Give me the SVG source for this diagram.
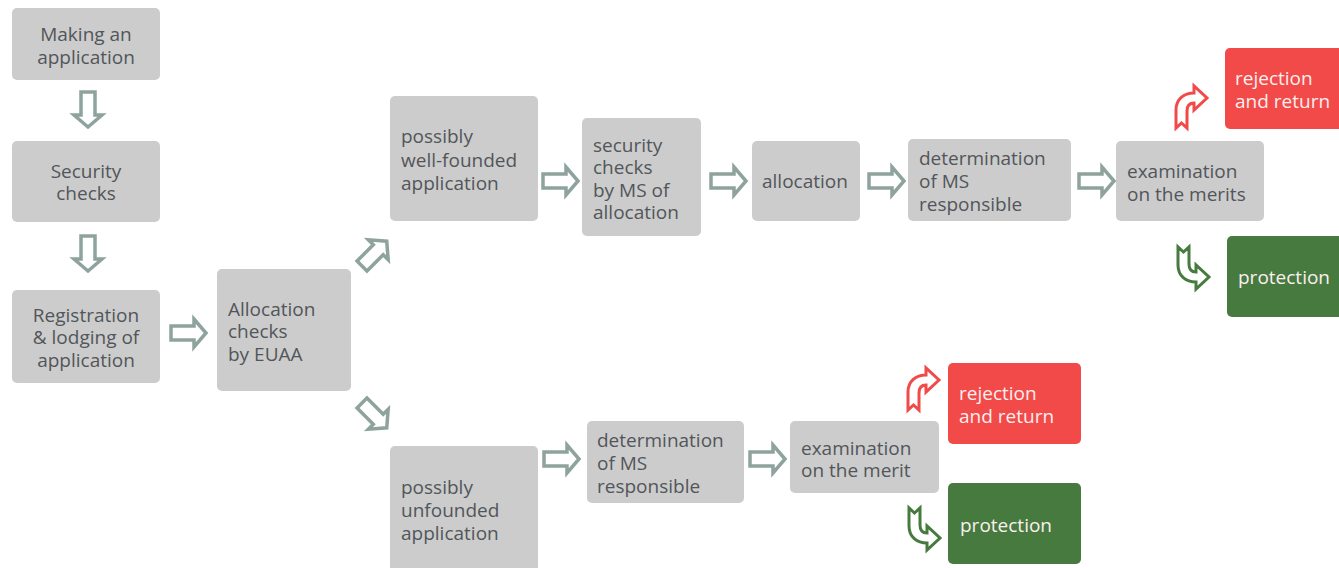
<svg xmlns="http://www.w3.org/2000/svg" xmlns:xlink="http://www.w3.org/1999/xlink" width="1339" height="568" viewBox="0 0 1339 568">
<style>
.box{fill:#cccccc}
.red{fill:#f24a48}
.green{fill:#477a3f}
text{font-family:"Open Sans","Noto Sans","DejaVu Sans",sans-serif;font-size:19px;fill:#52565a}
.c{text-anchor:middle}
.w{fill:#fbeff0}
.arr{fill:#ffffff;stroke:#8fa39e;stroke-width:3.5;stroke-linejoin:miter}
.cr{fill:#ffffff;stroke:#f24a48;stroke-width:3;stroke-linejoin:miter}
.cg{fill:#ffffff;stroke:#477a3f;stroke-width:3;stroke-linejoin:miter}
</style>
<defs>
<path id="ha" d="M0,-7 H23 V-14 L35,0 L23,14 V7 H0 Z"/>
<path id="ca" d="M2,44 L2,26 C2,15 10,9 20,9 L20,2 L33,14 L20,26 L20,19 C15,19 13,22 13,27 L13,44 L7.5,39 Z"/>
</defs>
<rect width="1339" height="568" fill="#ffffff"/>

<g id="n1"><rect class="box" x="12" y="8" width="148" height="72" rx="5"/><text class="c" x="86" y="41">Making an</text><text class="c" x="86" y="64">application</text></g>
<g id="n2"><rect class="box" x="12" y="141" width="148" height="81" rx="5"/><text class="c" x="86" y="178">Security</text><text class="c" x="86" y="200">checks</text></g>
<g id="n3"><rect class="box" x="12" y="290" width="148" height="93" rx="5"/><text class="c" x="86" y="322">Registration</text><text class="c" x="86" y="344">&amp; lodging of</text><text class="c" x="86" y="367">application</text></g>
<g id="n4"><rect class="box" x="217" y="269" width="134" height="122" rx="5"/><text x="228" y="316">Allocation</text><text x="228" y="338">checks</text><text x="228" y="361">by EUAA</text></g>
<g id="n5"><rect class="box" x="390" y="96" width="148" height="125" rx="5"/><text x="401" y="143">possibly</text><text x="401" y="167">well-founded</text><text x="401" y="190">application</text></g>
<g id="n6"><rect class="box" x="582" y="118" width="119" height="118" rx="5"/><text x="593" y="152">security</text><text x="593" y="174">checks</text><text x="593" y="197">by MS of</text><text x="593" y="219">allocation</text></g>
<g id="n7"><rect class="box" x="752" y="141" width="108" height="80" rx="5"/><text x="762" y="188">allocation</text></g>
<g id="n8"><rect class="box" x="908" y="139" width="163" height="82" rx="5"/><text x="919" y="165">determination</text><text x="919" y="188">of MS</text><text x="919" y="211">responsible</text></g>
<g id="n9"><rect class="box" x="1116" y="141" width="148" height="80" rx="5"/><text x="1127" y="178">examination</text><text x="1127" y="201">on the merits</text></g>
<g id="n10"><rect class="red" x="1225" y="48" width="120" height="81" rx="5"/><text class="w" x="1235" y="85">rejection</text><text class="w" x="1235" y="108">and return</text></g>
<g id="n11"><rect class="green" x="1227" y="236" width="118" height="81" rx="5"/><text class="w" x="1238" y="284">protection</text></g>
<g id="n12"><rect class="box" x="390" y="446" width="148" height="130" rx="5"/><text x="401" y="494">possibly</text><text x="401" y="517">unfounded</text><text x="401" y="540">application</text></g>
<g id="n13"><rect class="box" x="587" y="421" width="157" height="82" rx="5"/><text x="597" y="447">determination</text><text x="597" y="470">of MS</text><text x="597" y="493">responsible</text></g>
<g id="n14"><rect class="box" x="790" y="421" width="149" height="72" rx="5"/><text x="801" y="455">examination</text><text x="801" y="477">on the merit</text></g>
<g id="n15"><rect class="red" x="948" y="363" width="133" height="81" rx="5"/><text class="w" x="959" y="400">rejection</text><text class="w" x="959" y="423">and return</text></g>
<g id="n16"><rect class="green" x="948" y="483" width="133" height="81" rx="5"/><text class="w" x="960" y="532">protection</text></g>

<g id="connectors">
<use xlink:href="#ha" class="arr" transform="translate(88,92) rotate(90)"/>
<use xlink:href="#ha" class="arr" transform="translate(88,236) rotate(90)"/>
<use xlink:href="#ha" class="arr" transform="translate(171,333)"/>
<use xlink:href="#ha" class="arr" transform="translate(362,266) rotate(-45)"/>
<use xlink:href="#ha" class="arr" transform="translate(362,403) rotate(45)"/>
<use xlink:href="#ha" class="arr" transform="translate(543,181)"/>
<use xlink:href="#ha" class="arr" transform="translate(711,181)"/>
<use xlink:href="#ha" class="arr" transform="translate(869,181)"/>
<use xlink:href="#ha" class="arr" transform="translate(1079,181)"/>
<use xlink:href="#ha" class="arr" transform="translate(544,459)"/>
<use xlink:href="#ha" class="arr" transform="translate(750,459)"/>
<use xlink:href="#ca" class="cr" transform="translate(1174,84)"/>
<use xlink:href="#ca" class="cg" transform="translate(1176,291) scale(1,-1)"/>
<use xlink:href="#ca" class="cr" transform="translate(906,366)"/>
<use xlink:href="#ca" class="cg" transform="translate(907,552) scale(1,-1)"/>
</g>
</svg>
